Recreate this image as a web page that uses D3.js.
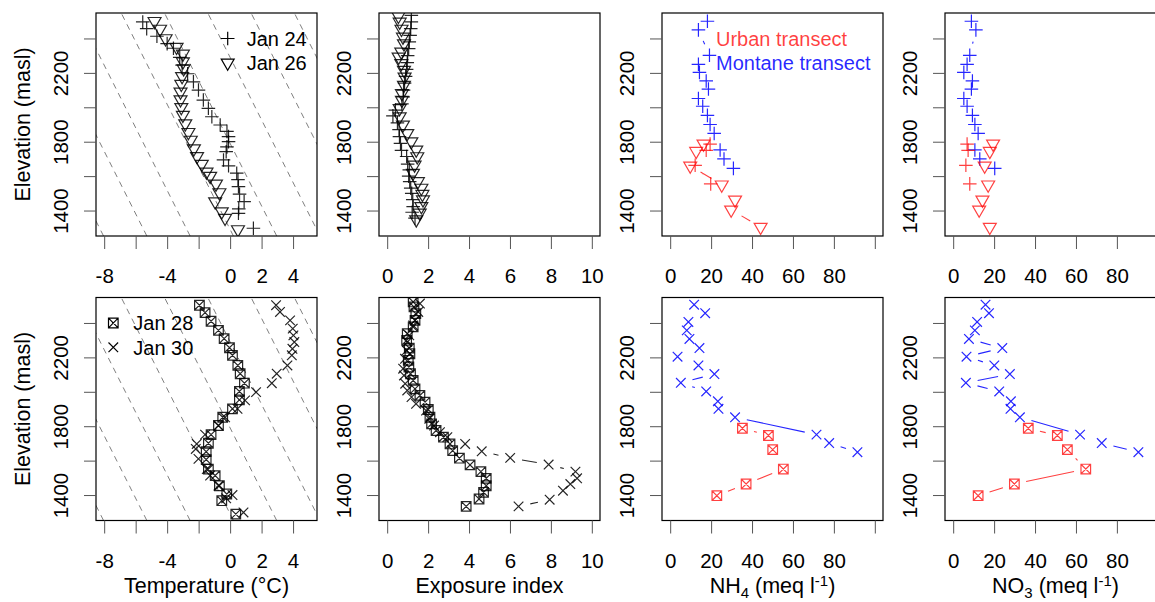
<!DOCTYPE html>
<html><head><meta charset="utf-8">
<script src="https://cdn.jsdelivr.net/npm/d3@7"></script>
<style>html,body{margin:0;padding:0;background:#fff;}svg{display:block;}</style>
</head><body><div id="chart"></div>
<script>
// ---------------- DATA ----------------
// Panel 1: temperature, Jan 24 (+) and Jan 26 (triangle)
const jan24TempElev = [2496,2457,2413,2370,2343,2290,2245,2195,2148,2100,2042,1994,1945,1897,1860,1830,1800,1770,1742,1694,1660,1617,1580,1539,1495,1452,1410,1384,1297];
const jan24Temp     = [-5.55,-5.3,-4.65,-4.0,-3.6,-3.2,-3.05,-2.7,-2.33,-2.01,-1.7,-1.38,-1.16,-0.63,-0.2,-0.1,-0.1,-0.2,-0.25,-0.42,-0.1,0.42,0.5,0.53,0.6,0.89,0.55,0.53,1.48];
const jan26TempElev = [2500,2455,2400,2350,2310,2265,2225,2180,2135,2090,2045,2000,1955,1905,1855,1810,1760,1715,1670,1625,1600,1555,1505,1452,1394,1356,1290];
const jan26Temp     = [-4.8,-4.45,-4.1,-3.4,-3.0,-3.0,-2.95,-3.05,-3.1,-3.15,-3.15,-3.1,-3.0,-2.85,-2.65,-2.5,-2.3,-2.1,-1.8,-1.5,-1.27,-0.9,-0.68,-0.95,-0.53,-0.32,0.5];
// Panel 2: exposure index, Jan 24 and Jan 26
const jan24ExpElev = [2534,2496,2457,2418,2380,2341,2300,2260,2220,2180,2140,2100,2060,2020,1984,1950,1910,1870,1830,1790,1750,1714,1670,1636,1600,1568,1530,1500,1463,1423,1390,1356];
const jan24Exp     = [1.18,1.18,1.15,1.12,1.08,1.05,1.0,0.98,0.95,0.9,0.85,0.8,0.78,0.72,0.4,0.28,0.5,0.58,0.6,0.65,0.7,0.95,1.0,1.08,1.05,1.1,1.15,1.2,1.25,1.27,1.22,1.36];
const jan26ExpElev = [2530,2496,2455,2409,2370,2322,2293,2255,2216,2177,2129,2081,2042,1994,1946,1898,1849,1801,1753,1714,1666,1618,1569,1531,1495,1463,1424,1386,1347];
const jan26Exp     = [0.55,0.61,0.7,0.77,0.82,0.69,0.56,0.69,0.82,0.85,0.82,0.72,0.72,0.61,0.61,0.77,0.98,1.18,1.42,1.47,1.34,1.26,1.5,1.67,1.72,1.75,1.67,1.59,1.42];
// Panels 3-4: Jan 24 (+) / Jan 26 (triangle), urban and montane transects
const montane24Elev = [2500,2450,2302,2250,2203,2153,2106,2051,2006,1953,1900,1848,1752,1700,1645];
const montane24NH4  = [18.2,13.8,19.2,13.8,14.3,17.6,18.7,13.8,15.9,18.2,19.5,21.5,24.4,26.3,30.9];
const montane24NO3  = [8.9,11.1,8.1,6.8,5.2,9.4,8.9,5.2,6.8,9.4,10.6,12.2,10.6,13.0,20.3];
const urban24Elev = [1786,1750,1663,1555];
const urban24NH4  = [19.5,17.6,12.2,19.8];
const urban24NO3  = [6.8,7.3,6.2,8.1];
const urban26Elev = [1788,1745,1660,1550,1462,1404,1304];
const urban26NH4  = [16.3,12.7,9.8,25.2,31.7,29.8,44.2];
const urban26NO3  = [19.5,17.9,15.4,17.1,14.3,12.7,17.9];
// Panel 5: temperature, Jan 28 (boxed x) and Jan 30 (x)
const jan28TempElev = [2503,2460,2410,2357,2309,2256,2212,2153,2105,2050,2002,1953,1901,1852,1804,1751,1701,1652,1606,1551,1513,1454,1406,1367,1289];
const jan28Temp     = [-1.95,-1.59,-1.21,-0.74,-0.38,-0.04,0.15,0.49,0.64,0.91,0.59,0.59,0.15,-0.47,-0.74,-1.21,-1.38,-1.52,-1.52,-1.38,-0.95,-0.68,-0.21,-0.53,0.36];
const jan30TempElev = [2503,2464,2415,2367,2328,2289,2250,2212,2153,2105,2050,1998,1950,1901,1852,1804,1751,1697,1668,1610,1551,1513,1454,1400,1381,1299];
const jan30Temp     = [2.92,3.17,3.81,3.98,4.02,4.08,3.96,3.92,3.64,2.96,2.65,1.65,0.95,0.47,-0.32,-0.74,-1.59,-2.12,-2.18,-2.01,-1.48,-1.27,-0.74,0.15,-0.25,0.85];
// Panel 6: exposure index, Jan 28 and Jan 30
const jan28ExpElev = [2522,2493,2454,2415,2377,2338,2299,2254,2221,2183,2144,2105,2066,2017,1979,1940,1897,1852,1814,1775,1736,1697,1658,1614,1575,1536,1497,1454,1416,1377,1334];
const jan28Exp     = [1.27,1.31,1.4,1.36,1.27,0.98,0.95,1.08,1.11,1.03,1.06,1.14,1.27,1.36,1.6,1.85,2.01,2.09,2.17,2.39,2.75,3.07,3.2,3.53,4.05,4.58,4.84,4.84,4.71,4.49,3.86];
const jan30ExpElev = [2513,2464,2416,2386,2328,2289,2241,2192,2134,2095,2047,2008,1969,1930,1891,1843,1804,1765,1736,1697,1654,1616,1577,1536,1497,1464,1425,1373,1334];
const jan30Exp     = [1.6,1.52,1.36,1.27,1.08,0.98,0.95,0.87,0.78,0.82,0.88,0.98,1.19,1.41,1.9,2.06,2.29,2.58,2.94,3.81,4.62,6.01,7.89,9.2,9.28,8.95,8.59,7.94,6.42];
// Panels 7-8: Jan 28 urban (boxed x), Jan 30 montane (x)
const montane30Elev = [2506,2457,2406,2357,2307,2254,2204,2153,2103,2052,2002,1945,1901,1852,1751,1702,1649];
const montane30NH4  = [11.7,17.1,8.9,8.1,9.4,14.3,3.6,13.8,21.6,5.2,17.6,23.3,23.6,31.7,71.5,77.7,91.5];
const montane30NO3  = [15.8,17.5,11.7,10.6,7.7,24.0,6.5,20.1,27.7,6.2,22.5,28.2,28.0,32.6,62.0,72.6,90.5];
const urban28Elev = [1788,1746,1664,1551,1464,1396];
const urban28NH4  = [35.3,48.0,50.1,55.3,37.1,22.8];
const urban28NO3  = [36.7,50.9,55.8,64.8,29.9,12.2];
// Axis ticks / labels
const yTicks = [1400,1600,1800,2000,2200,2400];
const yTickLabels = [1400,1800,2200];
const tempTicks = [-8,-6,-4,-2,0,2,4];
const tempTickLabels = [-8,-4,0,2,4];
const expTicks = [0,2,4,6,8,10];
const expTickLabels = [0,2,4,6,8,10];
const chemTicks = [0,20,40,60,80,100];
const chemTickLabels = [0,20,40,60,80];
// Reference lapse-rate guide lines (deg C per m) and their offsets at 1252 m
const lapseRate = 0.0055;
const lapseOffsets = [-8.04,-5.29,-2.54,0.21,2.96,5.71,8.46,11.21];

// ---------------- LAYOUT ----------------
const W = 1155, H = 602;
const FONT = '"Liberation Sans", Arial, Helvetica, sans-serif';
const RED = "rgba(255,0,0,0.75)", BLUE = "rgba(0,0,255,0.85)", BLACK = "rgba(0,0,0,0.85)";
const panelW = 221, panelH = 223;
const colLeft = [96, 379, 662, 945];
const rowTop = [13, 297.5];
const yDomain = [1252, 2548];
const tempDomain = [-8.52, 5.52], expDomain = [-0.4, 10.4], chemDomain = [-4, 104];
const R0 = 4.8, GAP = 12;
const TICKFS = 20.5, TITLEFS = 21.5, LEGFS = 20;

const svg = d3.select("#chart").append("svg").attr("width", W).attr("height", H)
  .style("font-family", FONT);
svg.append("rect").attr("width", W).attr("height", H).attr("fill", "#fff");

function symPath(type, x, y) {
  const r = R0;
  if (type === "plus") { const h = 1.414 * r; return `M${x-h},${y}H${x+h}M${x},${y-h}V${y+h}`; }
  if (type === "tri") { return `M${x},${y+1.555*r}L${x+1.347*r},${y-0.778*r}L${x-1.347*r},${y-0.778*r}Z`; }
  if (type === "times") { return `M${x-r},${y-r}L${x+r},${y+r}M${x-r},${y+r}L${x+r},${y-r}`; }
  if (type === "sqx") { return `M${x-r},${y-r}H${x+r}V${y+r}H${x-r}ZM${x-r},${y-r}L${x+r},${y+r}M${x-r},${y+r}L${x+r},${y-r}`; }
  return "";
}

const panels = [
  {col:0,row:0,xd:tempDomain,xt:tempTicks,xl:tempTickLabels,guides:true,
   series:[{x:jan24Temp,y:jan24TempElev,sym:"plus",c:BLACK},{x:jan26Temp,y:jan26TempElev,sym:"tri",c:BLACK}],
   legend:{type:"sym",dx:131.7,tx:150.7,items:[{sym:"plus",label:"Jan 24"},{sym:"tri",label:"Jan 26"}]}},
  {col:1,row:0,xd:expDomain,xt:expTicks,xl:expTickLabels,
   series:[{x:jan24Exp,y:jan24ExpElev,sym:"plus",c:BLACK},{x:jan26Exp,y:jan26ExpElev,sym:"tri",c:BLACK}]},
  {col:2,row:0,xd:chemDomain,xt:chemTicks,xl:chemTickLabels,
   series:[{x:montane24NH4,y:montane24Elev,sym:"plus",c:BLUE},{x:urban24NH4,y:urban24Elev,sym:"plus",c:RED},{x:urban26NH4,y:urban26Elev,sym:"tri",c:RED}],
   legend:{type:"text",tx:54,items:[{label:"Urban transect",c:RED},{label:"Montane transect",c:BLUE}]}},
  {col:3,row:0,xd:chemDomain,xt:chemTicks,xl:chemTickLabels,
   series:[{x:montane24NO3,y:montane24Elev,sym:"plus",c:BLUE},{x:urban24NO3,y:urban24Elev,sym:"plus",c:RED},{x:urban26NO3,y:urban26Elev,sym:"tri",c:RED}]},
  {col:0,row:1,xd:tempDomain,xt:tempTicks,xl:tempTickLabels,guides:true,title:"temp",
   series:[{x:jan28Temp,y:jan28TempElev,sym:"sqx",c:BLACK},{x:jan30Temp,y:jan30TempElev,sym:"times",c:BLACK}],
   legend:{type:"sym",dx:17.3,tx:37.3,items:[{sym:"sqx",label:"Jan 28"},{sym:"times",label:"Jan 30"}]}},
  {col:1,row:1,xd:expDomain,xt:expTicks,xl:expTickLabels,title:"exp",
   series:[{x:jan28Exp,y:jan28ExpElev,sym:"sqx",c:BLACK},{x:jan30Exp,y:jan30ExpElev,sym:"times",c:BLACK}]},
  {col:2,row:1,xd:chemDomain,xt:chemTicks,xl:chemTickLabels,title:"NH",sub:"4",
   series:[{x:montane30NH4,y:montane30Elev,sym:"times",c:BLUE},{x:urban28NH4,y:urban28Elev,sym:"sqx",c:RED}]},
  {col:3,row:1,xd:chemDomain,xt:chemTicks,xl:chemTickLabels,title:"NO",sub:"3",
   series:[{x:montane30NO3,y:montane30Elev,sym:"times",c:BLUE},{x:urban28NO3,y:urban28Elev,sym:"sqx",c:RED}]}
];

panels.forEach((p, i) => {
  const left = colLeft[p.col], top = rowTop[p.row];
  const x = d3.scaleLinear().domain(p.xd).range([left, left + panelW]);
  const y = d3.scaleLinear().domain(yDomain).range([top + panelH, top]);
  const g = svg.append("g");
  const clipId = "clip" + i;
  svg.append("defs").append("clipPath").attr("id", clipId)
    .append("rect").attr("x", left).attr("y", top).attr("width", panelW).attr("height", panelH);
  const plot = g.append("g").attr("clip-path", `url(#${clipId})`);

  // lapse-rate guide lines
  if (p.guides) {
    lapseOffsets.forEach(c => {
      const z0 = yDomain[0], z1 = yDomain[1];
      plot.append("line")
        .attr("x1", x(c)).attr("y1", y(z0))
        .attr("x2", x(c - lapseRate * (z1 - z0))).attr("y2", y(z1))
        .attr("stroke", "#808080").attr("stroke-width", 1).attr("stroke-dasharray", "6,5");
    });
  }

  // series: type "b" (points, connecting segments with gaps)
  p.series.forEach(s => {
    const pts = s.x.map((v, k) => [x(v), y(s.y[k])]);
    let d = "";
    for (let k = 0; k < pts.length - 1; k++) {
      const [x1, y1] = pts[k], [x2, y2] = pts[k + 1];
      const L = Math.hypot(x2 - x1, y2 - y1);
      if (L > 2 * GAP) {
        const ux = (x2 - x1) / L, uy = (y2 - y1) / L;
        d += `M${x1 + ux*GAP},${y1 + uy*GAP}L${x2 - ux*GAP},${y2 - uy*GAP}`;
      }
    }
    if (d) plot.append("path").attr("d", d).attr("fill", "none").attr("stroke", s.c).attr("stroke-width", 1.1);
    plot.append("g").selectAll("path").data(pts).join("path")
      .attr("d", q => symPath(s.sym, q[0], q[1]))
      .attr("fill", "none").attr("stroke", s.c).attr("stroke-width", 1.2);
  });

  // box
  g.append("rect").attr("x", left).attr("y", top).attr("width", panelW).attr("height", panelH)
    .attr("fill", "none").attr("stroke", "#000").attr("stroke-width", 1.2);

  // x axis
  const xa = g.append("g").attr("transform", `translate(0,${top + panelH})`)
    .call(d3.axisBottom(x).tickValues(p.xt).tickFormat(v => p.xl.includes(v) ? String(v) : "")
      .tickSize(13).tickPadding(19.5).tickSizeOuter(0));
  xa.select(".domain").remove();
  xa.attr("font-size", TICKFS).attr("font-family", FONT).attr("color", "#555");
  xa.selectAll("text").attr("fill", "#000");

  // y axis
  const ya = g.append("g").attr("transform", `translate(${left},0)`)
    .call(d3.axisLeft(y).tickValues(yTicks).tickFormat(v => yTickLabels.includes(v) ? String(v) : "")
      .tickSize(12).tickSizeOuter(0));
  ya.select(".domain").remove();
  ya.attr("font-size", TICKFS).attr("font-family", FONT).attr("color", "#555");
  ya.selectAll("text").attr("fill", "#000").attr("x", null).attr("dy", null)
    .attr("text-anchor", "middle").attr("transform", "translate(-28,0) rotate(-90)");

  // y title
  if (p.col === 0) {
    g.append("text").attr("transform", `translate(30,${top + panelH / 2}) rotate(-90)`)
      .attr("text-anchor", "middle").attr("font-size", TITLEFS).attr("fill", "#000")
      .text("Elevation (masl)");
  }

  // x titles
  const cx = left + panelW / 2, by = top + panelH + 72;
  if (p.title === "temp") {
    g.append("text").attr("x", cx).attr("y", by).attr("text-anchor", "middle").attr("font-size", TITLEFS).text("Temperature (°C)");
  } else if (p.title === "exp") {
    g.append("text").attr("x", cx).attr("y", by).attr("text-anchor", "middle").attr("font-size", TITLEFS).text("Exposure index");
  } else if (p.title) {
    const t = g.append("text").attr("x", cx).attr("y", by).attr("text-anchor", "middle").attr("font-size", TITLEFS);
    t.append("tspan").text(p.title);
    t.append("tspan").attr("font-size", 15).attr("dy", 5).text(p.sub);
    t.append("tspan").attr("dy", -5).text(" (meq l");
    t.append("tspan").attr("font-size", 15).attr("dy", -7).text("-1");
    t.append("tspan").attr("dy", 7).text(")");
  }

  // legends
  if (p.legend) {
    const L = p.legend, ly = [top + 25.5, top + 49.8];
    L.items.forEach((it, k) => {
      if (L.type === "sym") {
        g.append("path").attr("d", symPath(it.sym, left + L.dx, ly[k]))
          .attr("fill", "none").attr("stroke", "#000").attr("stroke-width", 1.2);
        g.append("text").attr("x", left + L.tx).attr("y", ly[k] + 7.2).attr("font-size", LEGFS).text(it.label);
      } else {
        g.append("text").attr("x", left + L.tx).attr("y", ly[k] + 7.2).attr("font-size", LEGFS)
          .attr("fill", it.c).text(it.label);
      }
    });
  }
});
</script>
</body></html>
